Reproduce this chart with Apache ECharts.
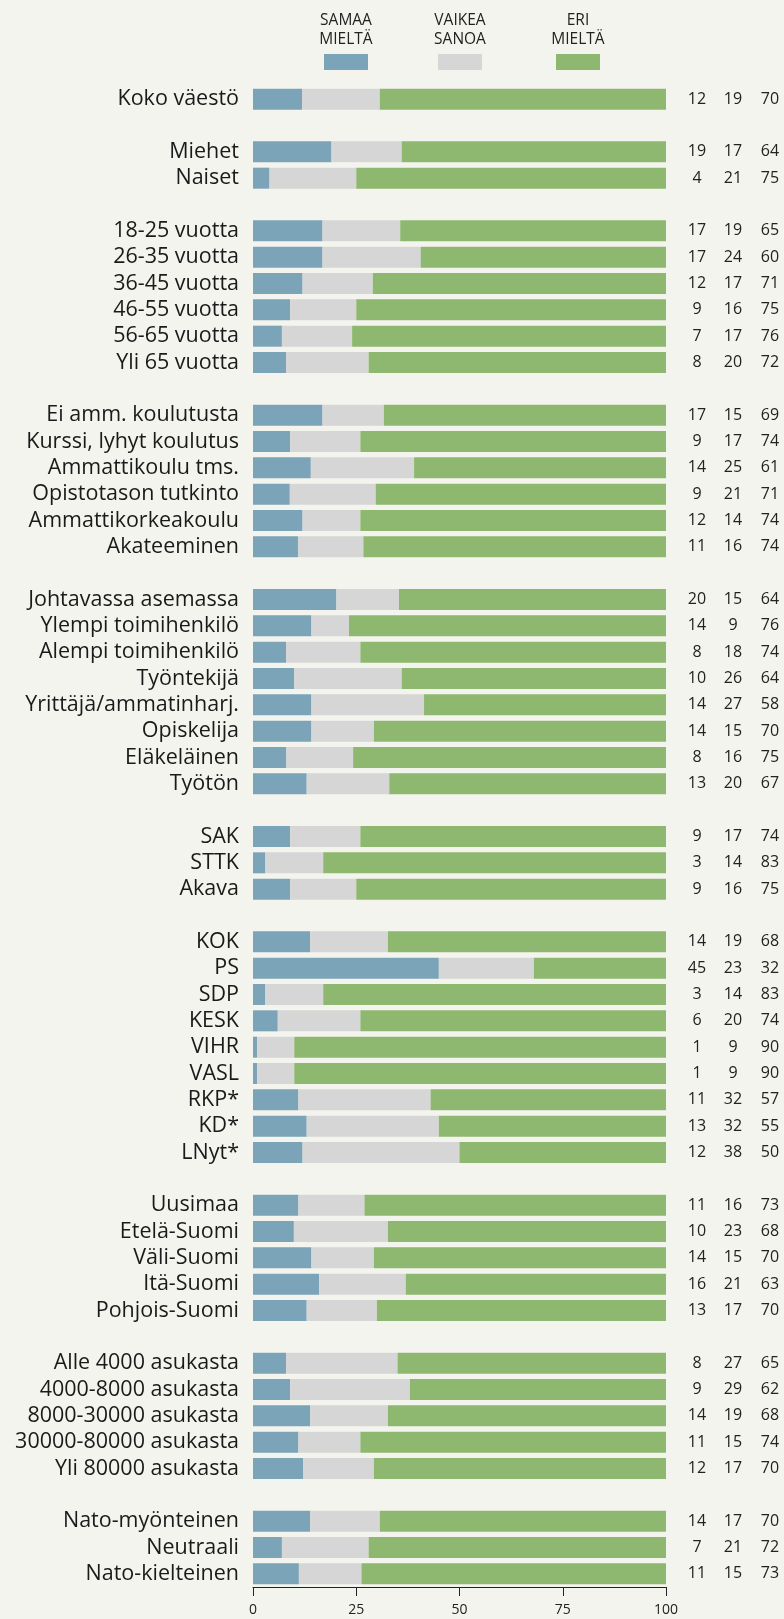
<!DOCTYPE html>
<html>
<head>
<meta charset="utf-8">
<script src="https://cdn.jsdelivr.net/npm/echarts@6/dist/echarts.min.js"></script>
<style>
html,body{margin:0;padding:0;background:#F4F4EF;}
#chart{width:784px;height:1619px;}
</style>
</head>
<body>
<div id="chart"></div>
<script>
// Categories ('' = spacer row between groups)
const categories = [
  'Koko väestö', '',
  'Miehet', 'Naiset', '',
  '18-25 vuotta', '26-35 vuotta', '36-45 vuotta', '46-55 vuotta', '56-65 vuotta', 'Yli 65 vuotta', '',
  'Ei amm. koulutusta', 'Kurssi, lyhyt koulutus', 'Ammattikoulu tms.', 'Opistotason tutkinto', 'Ammattikorkeakoulu', 'Akateeminen', '',
  'Johtavassa asemassa', 'Ylempi toimihenkilö', 'Alempi toimihenkilö', 'Työntekijä', 'Yrittäjä/ammatinharj.', 'Opiskelija', 'Eläkeläinen', 'Työtön', '',
  'SAK', 'STTK', 'Akava', '',
  'KOK', 'PS', 'SDP', 'KESK', 'VIHR', 'VASL', 'RKP*', 'KD*', 'LNyt*', '',
  'Uusimaa', 'Etelä-Suomi', 'Väli-Suomi', 'Itä-Suomi', 'Pohjois-Suomi', '',
  'Alle 4000 asukasta', '4000-8000 asukasta', '8000-30000 asukasta', '30000-80000 asukasta', 'Yli 80000 asukasta', '',
  'Nato-myönteinen', 'Neutraali', 'Nato-kielteinen'
];
const samaa = [
  12, null,
  19, 4, null,
  17, 17, 12, 9, 7, 8, null,
  17, 9, 14, 9, 12, 11, null,
  20, 14, 8, 10, 14, 14, 8, 13, null,
  9, 3, 9, null,
  14, 45, 3, 6, 1, 1, 11, 13, 12, null,
  11, 10, 14, 16, 13, null,
  8, 9, 14, 11, 12, null,
  14, 7, 11
];
const vaikea = [
  19, null,
  17, 21, null,
  19, 24, 17, 16, 17, 20, null,
  15, 17, 25, 21, 14, 16, null,
  15, 9, 18, 26, 27, 15, 16, 20, null,
  17, 14, 16, null,
  19, 23, 14, 20, 9, 9, 32, 32, 38, null,
  16, 23, 15, 21, 17, null,
  27, 29, 19, 15, 17, null,
  17, 21, 15
];
const eri = [
  70, null,
  64, 75, null,
  65, 60, 71, 75, 76, 72, null,
  69, 74, 61, 71, 74, 74, null,
  64, 76, 74, 64, 58, 70, 75, 67, null,
  74, 83, 75, null,
  68, 32, 83, 74, 90, 90, 57, 55, 50, null,
  73, 68, 70, 63, 70, null,
  65, 62, 68, 74, 70, null,
  70, 72, 73
];
const seriesNames = ['SAMAA\nMIELTÄ', 'VAIKEA\nSANOA', 'ERI\nMIELTÄ'];
const xTicks = [0, 25, 50, 75, 100];

const colors = ['#7BA4B9', '#D6D6D6', '#8EB86F'];

// bars are shown scaled to a full 100 % row
function share(arr) {
  return arr.map((v, i) => {
    if (v == null) return null;
    const s = samaa[i] + vaikea[i] + eri[i];
    return v / s * 100;
  });
}

const raw = [samaa, vaikea, eri];
const series = raw.map((arr, k) => ({
  name: seriesNames[k],
  type: 'bar',
  stack: 'all',
  data: share(arr),
  barWidth: 21,
  itemStyle: { color: colors[k] },
  silent: true
}));

const chart = echarts.init(document.getElementById('chart'), null, { renderer: 'canvas' });

const legendX = [346, 460, 578];
const graphic = [];
seriesNames.forEach((n, k) => {
  graphic.push({
    type: 'text',
    x: legendX[k], y: 11,
    style: {
      text: n, align: 'center', verticalAlign: 'top',
      font: '15.5px "Open Sans", sans-serif',
      lineHeight: 19, fill: '#222'
    }
  });
  graphic.push({
    type: 'rect',
    x: legendX[k] - 22, y: 54,
    shape: { width: 44, height: 16 },
    style: { fill: colors[k] }
  });
});

chart.setOption({
  backgroundColor: '#F4F4EF',
  animation: false,
  grid: { left: 253, right: 118, top: 86, bottom: 32, containLabel: false },
  graphic: graphic,
  xAxis: {
    type: 'value', min: 0, max: 100, interval: 25,
    axisLine: { show: true, lineStyle: { color: '#222', width: 1 } },
    axisTick: { show: true, length: 9, lineStyle: { color: '#222' } },
    axisLabel: {
      margin: 16, color: '#222',
      fontFamily: '"Open Sans", sans-serif', fontSize: 14,
      formatter: v => xTicks.includes(v) ? String(v) : ''
    },
    splitLine: { show: false }
  },
  yAxis: [
    {
      type: 'category', inverse: true, data: categories,
      axisLine: { show: false }, axisTick: { show: false },
      axisLabel: {
        interval: 0, hideOverlap: false,
        margin: 14, color: '#1a1a1a', fontSize: 21.5,
        fontFamily: '"Open Sans", "Noto Sans", sans-serif'
      }
    },
    {
      type: 'category', inverse: true, position: 'right', data: categories,
      axisLine: { show: false }, axisTick: { show: false },
      axisLabel: {
        interval: 0, hideOverlap: false,
        margin: 13, color: '#222',
        formatter: (val, idx) => {
          if (samaa[idx] == null) return '';
          return '{a|' + samaa[idx] + '}{b|' + vaikea[idx] + '}{c|' + eri[idx] + '}';
        },
        rich: {
          a: { width: 36, align: 'center', fontSize: 16, fontFamily: '"Open Sans", sans-serif', color: '#222' },
          b: { width: 36, align: 'center', fontSize: 16, fontFamily: '"Open Sans", sans-serif', color: '#222' },
          c: { width: 38, align: 'center', fontSize: 16, fontFamily: '"Open Sans", sans-serif', color: '#222' }
        }
      }
    }
  ],
  series: series
});
</script>
</body>
</html>
